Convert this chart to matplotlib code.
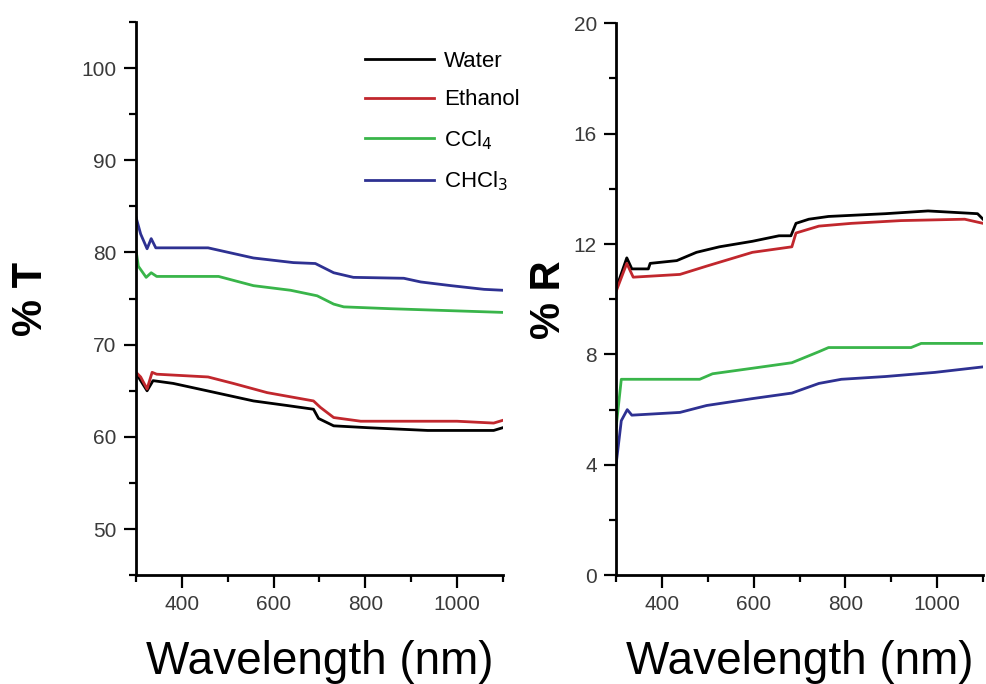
import matplotlib
matplotlib.use("Agg")
import matplotlib.pyplot as plt
from matplotlib.ticker import MultipleLocator

plt.rcParams['font.family'] = ['Liberation Sans', 'DejaVu Sans']

# transmission panel (%T)
water_T_wl = [300, 305, 324, 337, 381, 455, 556, 630, 687, 698, 731, 805, 936, 1080, 1100]
water_T = [66.8, 66.5, 65.0, 66.1, 65.8, 65.0, 63.9, 63.4, 63.0, 62.0, 61.2, 61.0, 60.7, 60.7, 61.0]
ethanol_T_wl = [300, 310, 324, 335, 345, 457, 512, 586, 687, 702, 731, 790, 1000, 1080, 1100]
ethanol_T = [67.0, 66.5, 65.2, 67.0, 66.8, 66.5, 65.8, 64.8, 63.9, 63.2, 62.1, 61.7, 61.7, 61.5, 61.8]
ccl4_T_wl = [300, 305, 322, 333, 345, 480, 556, 637, 695, 731, 753, 855, 1100]
ccl4_T = [80.2, 78.5, 77.3, 77.8, 77.4, 77.4, 76.4, 75.9, 75.3, 74.4, 74.1, 73.9, 73.5]
chcl3_T_wl = [300, 310, 324, 333, 343, 457, 484, 556, 643, 691, 731, 774, 884, 921, 987, 1059, 1100]
chcl3_T = [83.8, 82.0, 80.4, 81.5, 80.5, 80.5, 80.2, 79.4, 78.9, 78.8, 77.8, 77.3, 77.2, 76.8, 76.4, 76.0, 75.9]

# reflectance panel (%R)
water_R_wl = [300, 323, 334, 370, 374, 432, 475, 525, 597, 655, 681, 692, 720, 763, 887, 980, 1088, 1100]
water_R = [10.4, 11.5, 11.1, 11.1, 11.3, 11.4, 11.7, 11.9, 12.1, 12.3, 12.3, 12.75, 12.9, 13.0, 13.1, 13.2, 13.1, 12.9]
ethanol_R_wl = [300, 323, 337, 439, 497, 597, 683, 692, 742, 813, 921, 1060, 1100]
ethanol_R = [10.3, 11.3, 10.8, 10.9, 11.2, 11.7, 11.9, 12.4, 12.65, 12.75, 12.85, 12.9, 12.75]
ccl4_R_wl = [300, 311, 323, 482, 510, 597, 683, 742, 763, 943, 965, 1100]
ccl4_R = [5.4, 7.1, 7.1, 7.1, 7.3, 7.5, 7.7, 8.1, 8.25, 8.25, 8.4, 8.4]
chcl3_R_wl = [300, 311, 324, 334, 439, 497, 597, 683, 742, 791, 887, 995, 1100]
chcl3_R = [4.06, 5.6, 6.0, 5.8, 5.9, 6.15, 6.4, 6.6, 6.95, 7.1, 7.2, 7.35, 7.55]

labels = ['Water', 'Ethanol', 'CCl$_4$', 'CHCl$_3$']
colors = ['black', '#c1272d', '#39b54a', '#2e3192']

fig = plt.figure(figsize=(9.86, 6.84), dpi=100)
axT = fig.add_axes([0.138, 0.159, 0.372, 0.809])
axR = fig.add_axes([0.625, 0.159, 0.372, 0.807])

t_series = [(water_T_wl, water_T), (ethanol_T_wl, ethanol_T),
            (ccl4_T_wl, ccl4_T), (chcl3_T_wl, chcl3_T)]
r_series = [(water_R_wl, water_R), (ethanol_R_wl, ethanol_R),
            (ccl4_R_wl, ccl4_R), (chcl3_R_wl, chcl3_R)]

for (wl, v), c, lab in zip(t_series, colors, labels):
    axT.plot(wl, v, color=c, lw=2, label=lab)
for (wl, v), c in zip(r_series, colors):
    axR.plot(wl, v, color=c, lw=2)

axT.set_ylim(45, 105)
axT.yaxis.set_minor_locator(MultipleLocator(5))
axT.set_yticks([50, 60, 70, 80, 90, 100])
axR.set_ylim(0, 20)
axR.yaxis.set_major_locator(MultipleLocator(4))
axR.yaxis.set_minor_locator(MultipleLocator(2))

for ax in (axT, axR):
    ax.set_xlim(300, 1100)
    ax.xaxis.set_minor_locator(MultipleLocator(100))
    ax.set_xticks([400, 600, 800, 1000])
    ax.spines['top'].set_visible(False)
    ax.spines['right'].set_visible(False)
    ax.spines['left'].set_linewidth(2)
    ax.spines['bottom'].set_linewidth(2)
    ax.tick_params(which='major', direction='out', length=9, width=1.6,
                   labelsize=15, labelcolor='#3a3a3a', pad=5)
    ax.tick_params(which='minor', direction='out', length=5, width=1.6)
    ax.set_xlabel('Wavelength (nm)', fontsize=33, labelpad=19)

axT.set_ylabel('% T', fontsize=30, fontweight='bold', labelpad=22)
axR.set_ylabel('% R', fontsize=30, fontweight='bold', labelpad=3)

axT.legend(loc='upper left', bbox_to_anchor=(0.624, 0.948), frameon=False,
           fontsize=16, handlelength=3.1, handletextpad=0.45, labelspacing=0.8,
           borderpad=0, borderaxespad=0)

fig.savefig('out.png', dpi=100)
